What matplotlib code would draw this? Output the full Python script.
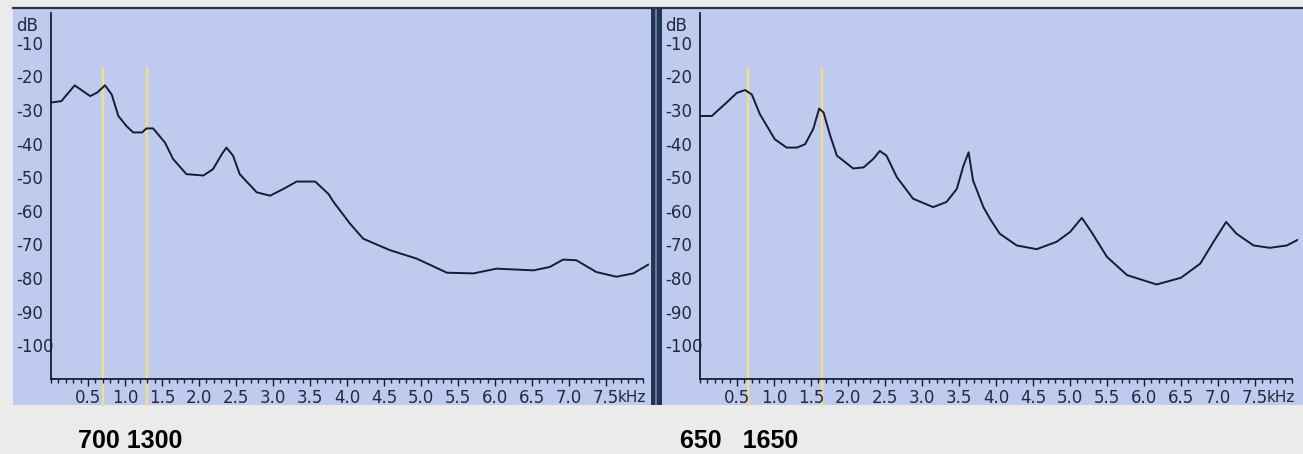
import matplotlib
matplotlib.use("Agg")
import matplotlib.pyplot as plt
from matplotlib.patches import Rectangle
from matplotlib.ticker import MultipleLocator

W, H = 1303, 454

# spectrum envelopes, kHz / dB
freq_a = [0, 0.14, 0.32, 0.53, 0.62, 0.73, 0.82, 0.91, 1.02, 1.11, 1.23, 1.29, 1.38,
          1.54, 1.65, 1.83, 2.06, 2.19, 2.31, 2.37, 2.46, 2.55, 2.78, 2.96, 3.14, 3.32,
          3.57, 3.75, 3.82, 4.04, 4.22, 4.58, 4.94, 5.35, 5.71, 6.02, 6.52, 6.74, 6.92,
          7.10, 7.37, 7.64, 7.87, 8.07]
level_a = [-27.8, -27.4, -22.7, -25.9, -24.9, -22.7, -25.4, -31.8, -34.8, -36.7, -36.7,
           -35.5, -35.5, -39.7, -44.6, -49.1, -49.5, -47.6, -43.1, -41.2, -43.6, -49.1,
           -54.5, -55.5, -53.5, -51.3, -51.3, -55.0, -57.4, -63.8, -68.3, -71.7, -74.2,
           -78.4, -78.6, -77.2, -77.7, -76.7, -74.5, -74.7, -78.2, -79.6, -78.6, -76.0]

freq_b = [0, 0.16, 0.36, 0.50, 0.61, 0.70, 0.81, 1.01, 1.17, 1.31, 1.42, 1.53, 1.61,
          1.67, 1.76, 1.85, 2.07, 2.21, 2.34, 2.43, 2.52, 2.66, 2.88, 3.15, 3.33, 3.47,
          3.56, 3.63, 3.69, 3.83, 3.92, 4.05, 4.28, 4.55, 4.82, 5.00, 5.16, 5.29, 5.50,
          5.77, 6.17, 6.50, 6.76, 6.94, 7.11, 7.25, 7.48, 7.70, 7.93, 8.08]
level_b = [-31.8, -31.8, -27.8, -24.9, -24.1, -25.4, -31.3, -38.7, -41.2, -41.2, -40.2,
           -35.7, -29.6, -30.8, -37.7, -43.6, -47.4, -47.1, -44.6, -42.2, -43.6, -50.0,
           -56.4, -58.9, -57.4, -53.5, -46.6, -42.6, -51.0, -58.9, -62.4, -66.8, -70.3,
           -71.4, -69.2, -66.3, -62.1, -66.3, -73.7, -79.1, -81.9, -79.9, -75.7, -69.2,
           -63.3, -66.8, -70.3, -71.0, -70.3, -68.6]

# formant markers in Hz
marks_a = [700, 1300]
marks_b = [650, 1650]

db_ticks = [-10, -20, -30, -40, -50, -60, -70, -80, -90, -100]
khz_ticks = [0.5, 1.0, 1.5, 2.0, 2.5, 3.0, 3.5, 4.0, 4.5, 5.0, 5.5, 6.0, 6.5, 7.0, 7.5]

PANEL = "#bfcbee"
INK = "#161a36"
LABEL = "#23273f"
YELLOW = "#f4dd88"
GREY = "#ebebeb"


def box(x0, y0, x1, y1):
    """pixel box (top-left origin) -> figure fraction rect"""
    return [x0 / W, 1 - y1 / H, (x1 - x0) / W, (y1 - y0) / H]


fig = plt.figure(figsize=(W / 100, H / 100), dpi=100, facecolor=GREY)

# panel backgrounds, divider and frame line
bg = fig.add_axes([0, 0, 1, 1])
bg.set_xlim(0, W)
bg.set_ylim(H, 0)
bg.axis("off")
bg.add_patch(Rectangle((13, 8), 638, 397, color=PANEL, lw=0))
bg.add_patch(Rectangle((662, 8), 641, 397, color=PANEL, lw=0))
bg.add_patch(Rectangle((651, 8), 11, 397, color="#243457", lw=0))
bg.add_patch(Rectangle((655, 8), 2, 397, color="#6678a0", lw=0))
bg.plot([13, W], [7.5, 7.5], color="#2a3250", lw=1.6)


def spectrum(x0, freqs, levels, marks, caption, cap_x):
    ax = fig.add_axes(box(x0, 9, x0 + 598, 379))
    ax.patch.set_alpha(0)
    ax.set_xlim(0, 598 / 74)
    ax.set_ylim(-110, 0)

    for m in marks:
        ax.axvline(m / 1000, ymin=-0.07, ymax=0.84, color=YELLOW, lw=1.7,
                   clip_on=False, zorder=1)
    ax.plot(freqs, levels, color=INK, lw=1.4, zorder=3)

    for s in ("top", "right"):
        ax.spines[s].set_visible(False)
    for s in ("left", "bottom"):
        ax.spines[s].set_color(INK)
        ax.spines[s].set_linewidth(1.3)
    ax.spines["left"].set_bounds(-110, -1.2)
    ax.spines["bottom"].set_bounds(0, 8.0)

    ax.set_xticks(khz_ticks)
    ax.set_xticklabels([f"{t:.1f}" for t in khz_ticks])
    ax.xaxis.set_minor_locator(MultipleLocator(0.1))
    ax.tick_params(axis="x", which="major", length=5, width=1, color=INK,
                   pad=2, labelsize=12, labelcolor=LABEL)
    ax.tick_params(axis="x", which="minor", length=3, width=1, color=INK)

    ax.set_yticks(db_ticks)
    ax.set_yticklabels([f"-{abs(t)}" for t in db_ticks])
    ax.tick_params(axis="y", length=0, pad=25, labelsize=12, labelcolor=LABEL)
    for lab in ax.get_yticklabels():
        lab.set_horizontalalignment("left")

    ax.text(7.5 + 0.16, -0.03, "kHz", transform=ax.get_xaxis_transform(),
            ha="left", va="top", fontsize=11, color=LABEL)
    fig.text((x0 - 35) / W, 1 - 26 / H, "dB", ha="left", va="center",
             fontsize=12, color=LABEL)
    fig.text(cap_x / W, 1 - 441 / H, caption, ha="left", va="center",
             fontsize=18, fontweight="bold", family="Liberation Sans", color="black")
    return ax


spectrum(51, freq_a, level_a, marks_a, "700 1300", 78)
spectrum(700, freq_b, level_b, marks_b, "650   1650", 680)

fig.savefig("out.png", dpi=100, facecolor=GREY)
